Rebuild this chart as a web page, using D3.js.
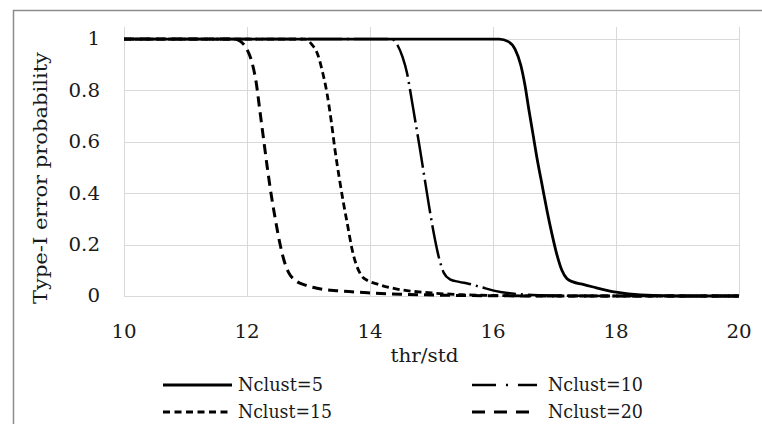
<!DOCTYPE html>
<meta charset="utf-8">
<script src="https://d3js.org/d3.v7.min.js"></script>
<style>
  body { margin: 0; background: #fff; }
  text { font-family: "DejaVu Serif", serif; fill: #1a1a1a; }
</style>
<div id="chart"></div>
<script>
    // series: [thr/std, probability]
    var nclust5 = [[10,1],[16.1,1],[16.25,0.99],[16.36,0.96],[16.45,0.9],[16.52,0.82],[16.58,0.73],[16.65,0.63],[16.72,0.53],[16.8,0.43],[16.88,0.33],[16.96,0.24],[17.04,0.16],[17.12,0.1],[17.2,0.068],[17.3,0.055],[17.45,0.046],[17.63,0.035],[18.0,0.015],[18.4,0.004],[19,0],[20,0]];
    var nclust10 = [[10,1],[14.35,1],[14.45,0.975],[14.53,0.93],[14.6,0.87],[14.66,0.79],[14.73,0.69],[14.8,0.59],[14.88,0.47],[14.96,0.35],[15.04,0.24],[15.12,0.15],[15.2,0.09],[15.3,0.065],[15.45,0.055],[15.6,0.048],[15.8,0.035],[16.03,0.02],[16.5,0.006],[17,0.002],[18,0],[20,0]];
    var nclust15 = [[10,1],[12.95,1],[13.05,0.98],[13.15,0.94],[13.23,0.87],[13.3,0.79],[13.37,0.68],[13.43,0.57],[13.5,0.46],[13.57,0.36],[13.64,0.27],[13.71,0.18],[13.78,0.12],[13.86,0.08],[13.96,0.06],[14.11,0.047],[14.44,0.027],[15,0.012],[15.5,0.005],[16,0.002],[17,0],[20,0]];
    var nclust20 = [[10,1],[11.8,1],[11.9,0.99],[12.0,0.96],[12.08,0.91],[12.15,0.83],[12.21,0.72],[12.27,0.61],[12.33,0.5],[12.39,0.4],[12.46,0.3],[12.53,0.21],[12.6,0.14],[12.68,0.09],[12.78,0.062],[12.95,0.042],[13.14,0.03],[13.5,0.02],[14,0.012],[14.5,0.007],[15,0.004],[15.5,0.002],[16,0.001],[17,0],[20,0]];

    var seriesNames = ["Nclust=5", "Nclust=10", "Nclust=15", "Nclust=20"];
    var xTicks = [10, 12, 14, 16, 18, 20];
    var yTicks = [0, 0.2, 0.4, 0.6, 0.8, 1];

    var series = [
        {name: seriesNames[0], values: nclust5,  dash: null,        legendDash: null,         w: 2.8},
        {name: seriesNames[1], values: nclust10, dash: "34,5,2,5",  legendDash: "24,10,2,10", w: 2.5},
        {name: seriesNames[2], values: nclust15, dash: "7,4",       legendDash: "7,4.5",      w: 2.8},
        {name: seriesNames[3], values: nclust20, dash: "10,6",      legendDash: "13,9",       w: 3}
    ];

    var W = 762, H = 425;
    var margin = {top: 27, right: 23, bottom: 129, left: 124};
    var width = W - margin.left - margin.right,
        height = H - margin.top - margin.bottom;

    var svg = d3.select("#chart").append("svg")
        .attr("width", W).attr("height", H);

    // outer frame (only left and top edges visible in the picture)
    svg.append("path")
        .attr("d", "M13.5,424 V10.5 H762")
        .attr("fill", "none").attr("stroke", "#8c8c8c").attr("stroke-width", 1.5);

    var g = svg.append("g")
        .attr("transform", "translate(" + margin.left + "," + margin.top + ")");

    var x = d3.scaleLinear().domain([10, 20]).range([0, width]);
    var y = d3.scaleLinear().domain([0, 1.047]).range([height, 0]);

    // gridlines
    g.selectAll(".hgrid").data(yTicks).enter().append("line")
        .attr("x1", 0).attr("x2", width)
        .attr("y1", function(d) { return Math.round(y(d)) + 0.5; })
        .attr("y2", function(d) { return Math.round(y(d)) + 0.5; })
        .attr("stroke", "#d9d9d9");
    g.selectAll(".vgrid").data(xTicks).enter().append("line")
        .attr("y1", 0).attr("y2", height)
        .attr("x1", function(d) { return Math.round(x(d)) + 0.5; })
        .attr("x2", function(d) { return Math.round(x(d)) + 0.5; })
        .attr("stroke", "#d9d9d9");

    // tick labels (the original face is wider, so stretch a bit)
    g.selectAll(".ylab").data(yTicks).enter().append("text")
        .attr("x", -24).attr("y", function(d) { return y(d); })
        .attr("dy", "0.35em").attr("text-anchor", "end")
        .style("font-size", "18px")
        .text(function(d) { return d; })
        .each(function() {
            var el = d3.select(this), w = this.getComputedTextLength();
            el.attr("textLength", w * 1.1).attr("lengthAdjust", "spacingAndGlyphs");
        });
    g.selectAll(".xlab").data(xTicks).enter().append("text")
        .attr("x", function(d) { return x(d); }).attr("y", height + 36)
        .attr("dy", "0.35em").attr("text-anchor", "middle")
        .style("font-size", "18px")
        .text(function(d) { return d; })
        .each(function() {
            var el = d3.select(this), w = this.getComputedTextLength();
            el.attr("textLength", w * 1.1).attr("lengthAdjust", "spacingAndGlyphs");
        });

    // axis titles
    g.append("text")
        .attr("x", width / 2 - 7).attr("y", height + 66)
        .attr("text-anchor", "middle").style("font-size", "19px")
        .attr("textLength", 68).attr("lengthAdjust", "spacingAndGlyphs")
        .text("thr/std");
    svg.append("text")
        .attr("transform", "translate(47,178) rotate(-90)")
        .attr("text-anchor", "middle").style("font-size", "18px")
        .attr("textLength", 252).attr("lengthAdjust", "spacingAndGlyphs")
        .text("Type-I error probability");

    // lines
    var line = d3.line()
        .x(function(d) { return x(d[0]); })
        .y(function(d) { return y(d[1]); })
        .curve(d3.curveMonotoneX);

    g.selectAll(".series").data(series.slice().reverse()).enter().append("path")
        .attr("d", function(d) { return line(d.values); })
        .attr("fill", "none").attr("stroke", "#000")
        .attr("stroke-width", function(d) { return d.w; })
        .attr("stroke-dasharray", function(d) { return d.dash; });

    // legend, 2 columns x 2 rows
    var legendPos = [[163, 385], [472, 385], [163, 412], [472, 412]];
    var legendTextW = [85, 95, 94, 95];
    var lg = svg.selectAll(".legend").data(series).enter().append("g")
        .attr("transform", function(d, i) { return "translate(" + legendPos[i][0] + "," + legendPos[i][1] + ")"; });
    lg.append("line")
        .attr("x1", 0).attr("x2", function(d, i) { return i == 3 ? 58 : (i == 1 ? 65 : 69); })
        .attr("y1", 0).attr("y2", 0)
        .attr("stroke", "#000")
        .attr("stroke-width", function(d) { return d.w; })
        .attr("stroke-dasharray", function(d) { return d.legendDash; });
    lg.append("text")
        .attr("x", function(d, i) { return i % 2 ? 76 : 75; }).attr("y", 0)
        .attr("dy", "0.35em").style("font-size", "18px")
        .attr("textLength", function(d, i) { return legendTextW[i]; })
        .attr("lengthAdjust", "spacingAndGlyphs")
        .text(function(d) { return d.name; });
</script>
